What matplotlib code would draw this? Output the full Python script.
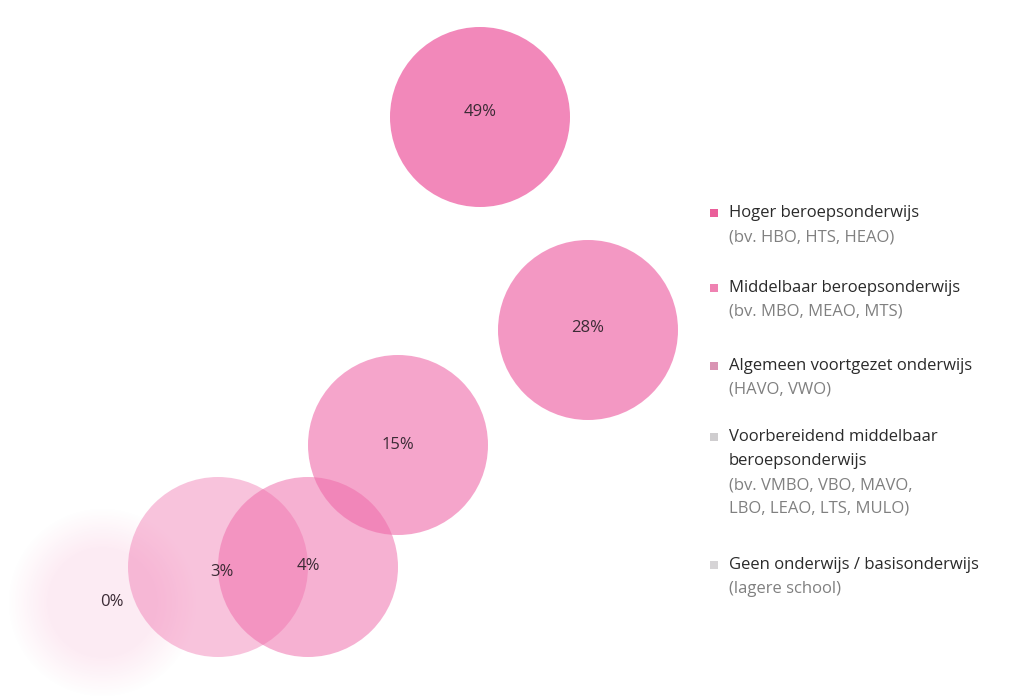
import matplotlib.pyplot as plt
from matplotlib.patches import Circle
import numpy as np

# data
labels = ['49%', '28%', '15%', '4%', '3%', '0%']
values = [49, 28, 15, 4, 3, 0]
cx = [480, 588, 398, 308, 218, 102]
cy = [117, 330, 445, 567, 567, 602]
alphas = [0.80, 0.69, 0.60, 0.52, 0.40, 0.0]

legend_titles = [['Hoger beroepsonderwijs'], ['Middelbaar beroepsonderwijs'],
                 ['Algemeen voortgezet onderwijs'],
                 ['Voorbereidend middelbaar', 'beroepsonderwijs'],
                 ['Geen onderwijs / basisonderwijs']]
legend_subs = [['(bv. HBO, HTS, HEAO)'], ['(bv. MBO, MEAO, MTS)'], ['(HAVO, VWO)'],
               ['(bv. VMBO, VBO, MAVO,', 'LBO, LEAO, LTS, MULO)'], ['(lagere school)']]
legend_colors = ['#ea5f9a', '#ef82b2', '#d994b3', '#cfcdcf', '#d6d4d6']
legend_y = [213, 288, 366, 437, 565]

pink = '#ef6aa9'
R = 90

fig = plt.figure(figsize=(10.24, 6.96), dpi=100)
ax = fig.add_axes([0, 0, 1, 1])
ax.set_xlim(0, 1024)
ax.set_ylim(696, 0)
ax.set_aspect('equal')
ax.axis('off')

# blurred 0% circle as a soft radial image
gx, gy = np.meshgrid(np.arange(0, 230), np.arange(470, 696))
r = np.hypot(gx - cx[5], gy - cy[5])
a = 0.13 * np.clip((R + 5 - r) / 40.0, 0, 1)
img = np.zeros(gx.shape + (4,))
img[..., 0] = 0.94
img[..., 1] = 0.42
img[..., 2] = 0.66
img[..., 3] = a
ax.imshow(img, extent=(0, 230, 696, 470), zorder=1, interpolation='bilinear')

# draw from smallest to largest so the big ones sit on top
for i in [4, 3, 2, 1, 0]:
    ax.add_patch(Circle((cx[i], cy[i]), R, color=pink, alpha=alphas[i], lw=0, zorder=2))

offs = [(0, -5), (0, -2), (0, 0), (0, -1), (4, 5), (10, 0)]
for i, lab in enumerate(labels):
    ax.text(cx[i] + offs[i][0], cy[i] + offs[i][1], lab, ha='center', va='center',
            fontsize=12, color='#3b2b35', family='Open Sans', zorder=3)

# legend
for t, s, c, y in zip(legend_titles, legend_subs, legend_colors, legend_y):
    ax.scatter([714], [y], marker='s', s=34, color=c, lw=0, zorder=3)
    yy = y
    for line in t:
        ax.text(729, yy, line, ha='left', va='center', fontsize=12, color='#2a2a2a',
                family='Open Sans')
        yy += 24
    for line in s:
        ax.text(729, yy, line, ha='left', va='center', fontsize=12, color='#808080',
                family='Open Sans')
        yy += 23.5

plt.savefig('out.png', dpi=100, facecolor='white')
